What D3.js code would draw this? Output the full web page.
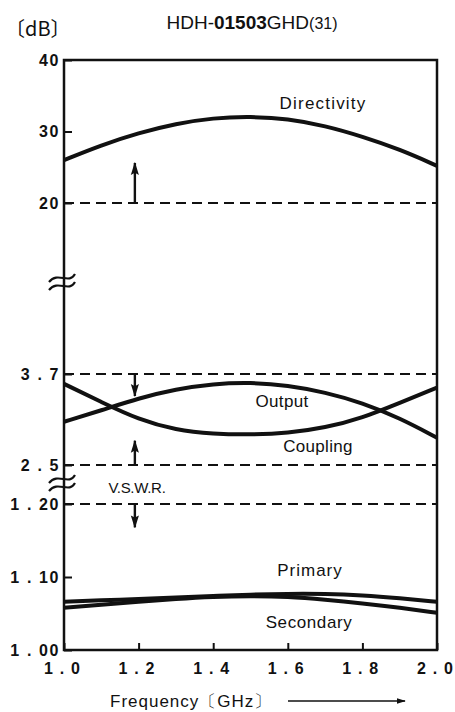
<!DOCTYPE html>
<html>
<head>
<meta charset="utf-8">
<script src="https://cdn.jsdelivr.net/npm/d3@7"></script>
<style>
  body { margin: 0; background: #fff; }
  svg { font-family: "Liberation Sans", Arial, sans-serif; }
  .tick text { font-weight: bold; font-size: 16px; letter-spacing: 1.6px; fill: #111; }
  .x-axis .tick text { letter-spacing: 1.2px; }
  .tick line { stroke: #111; stroke-width: 2; }
  .label { font-size: 17px; letter-spacing: 0.7px; fill: #111; text-anchor: middle; }
</style>
</head>
<body>
<svg id="chart"></svg>
<script>
// Frequency samples (GHz)
const freqs = [1.0, 1.1, 1.2, 1.3, 1.4, 1.5, 1.6, 1.7, 1.8, 1.9, 2.0];

// Directivity (dB)
const directivity = [26.0, 28.1, 29.8, 31.1, 31.9, 32.1, 31.8, 30.8, 29.3, 27.5, 25.2];

// Output / coupling (dB)
const output   = [3.07, 3.22, 3.38, 3.50, 3.57, 3.59, 3.55, 3.46, 3.32, 3.12, 2.86];
const coupling = [3.57, 3.33, 3.10, 2.96, 2.91, 2.90, 2.92, 2.99, 3.12, 3.32, 3.52];

// V.S.W.R.
const vswrPrimary   = [1.066, 1.068, 1.070, 1.072, 1.074, 1.076, 1.077, 1.077, 1.075, 1.071, 1.066];
const vswrSecondary = [1.058, 1.062, 1.066, 1.070, 1.073, 1.074, 1.073, 1.069, 1.064, 1.058, 1.051];

// Tick labels
const xTicks = [1.0, 1.2, 1.4, 1.6, 1.8, 2.0];
const dirTicks = [20, 30, 40];
const cplTicks = [2.5, 3.7];
const vswrTicks = [1.00, 1.10, 1.20];

// Spec limits (dashed lines) and the arrows pointing to the allowed side
const dirLimit = 20, outputLimit = 3.7, couplingLimit = 2.5, vswrLimit = 1.20;
const arrowFreq = 1.19;

class SpecChart {

  constructor(_config) {
    this.config = {
      parentElement: _config.parentElement,
      containerWidth: _config.containerWidth || 455,
      containerHeight: _config.containerHeight || 712,
      margin: _config.margin || {top: 60, right: 18, bottom: 62, left: 64}
    }
    this.initVis();
  }

  initVis() {
    let vis = this;
    const m = vis.config.margin;
    vis.width = vis.config.containerWidth - m.left - m.right;
    vis.height = vis.config.containerHeight - m.top - m.bottom;

    vis.svg = d3.select(vis.config.parentElement)
        .attr('width', vis.config.containerWidth)
        .attr('height', vis.config.containerHeight);

    vis.chart = vis.svg.append('g')
        .attr('transform', `translate(${m.left},${m.top})`);

    vis.xScale = d3.scaleLinear().domain([1.0, 2.0]).range([0, vis.width]);

    // three stacked segments of the broken y axis
    vis.yDir = d3.scaleLinear().domain([20, 40]).range([143, 0]);
    vis.yCpl = d3.scaleLinear().domain([2.5, 3.7]).range([405, 314]);
    vis.yVswr = d3.scaleLinear().domain([1.0, 1.2]).range([vis.height, 444]);

    const defs = vis.svg.append('defs');
    defs.append('marker')
        .attr('id', 'head')
        .attr('viewBox', '0 0 12 10')
        .attr('refX', 11).attr('refY', 5)
        .attr('markerWidth', 13).attr('markerHeight', 9)
        .attr('markerUnits', 'userSpaceOnUse')
        .attr('preserveAspectRatio', 'none')
        .attr('orient', 'auto')
      .append('path')
        .attr('d', 'M0,0.5 L12,5 L0,9.5 L2,5 Z')
        .attr('fill', '#111');
    defs.append('marker')
        .attr('id', 'axhead')
        .attr('viewBox', '0 0 10 10')
        .attr('refX', 9).attr('refY', 5)
        .attr('markerWidth', 9).attr('markerHeight', 6)
        .attr('markerUnits', 'userSpaceOnUse')
        .attr('preserveAspectRatio', 'none')
        .attr('orient', 'auto')
      .append('path')
        .attr('d', 'M0,0.5 L10,5 L0,9.5 Z')
        .attr('fill', '#111');

    vis.renderVis();
  }

  renderVis() {
    let vis = this;
    const fmt = d => d >= 10 ? String(d) : d3.format(d < 2 ? '.2f' : '.1f')(d).replace('.', ' . ');

    // axes (labels + inner ticks)
    const left = (scale, vals) => vis.chart.append('g')
        .call(d3.axisLeft(scale).tickValues(vals).tickFormat(fmt)
          .tickSizeInner(-8).tickSizeOuter(0).tickPadding(4))
        .call(g => g.select('.domain').remove());
    left(vis.yDir, dirTicks);
    left(vis.yCpl, cplTicks);
    left(vis.yVswr, vswrTicks);

    vis.chart.append('g')
        .attr('class', 'x-axis')
        .attr('transform', `translate(0,${vis.height})`)
        .call(d3.axisBottom(vis.xScale).tickValues(xTicks)
          .tickFormat(d => d3.format('.1f')(d).replace('.', ' . '))
          .tickSizeInner(-7).tickSizeOuter(0).tickPadding(13))
        .call(g => g.select('.domain').remove())
        .call(g => g.selectAll('.tick text').attr('dx', -2));

    // frame
    vis.chart.append('rect')
        .attr('width', vis.width).attr('height', vis.height)
        .attr('fill', 'none').attr('stroke', '#111').attr('stroke-width', 2.5);

    // dashed spec lines
    const limits = [vis.yDir(dirLimit), vis.yCpl(outputLimit), vis.yCpl(couplingLimit), vis.yVswr(vswrLimit)];
    vis.chart.selectAll('.limit').data(limits).join('line')
        .attr('class', 'limit')
        .attr('x1', 0).attr('x2', vis.width)
        .attr('y1', d => d).attr('y2', d => d)
        .attr('stroke', '#111').attr('stroke-width', 2)
        .attr('stroke-dasharray', '10,6');

    // spec arrows
    const ax = vis.xScale(arrowFreq);
    const arrows = [
      [vis.yDir(dirLimit), vis.yDir(25.6)],
      [vis.yCpl(outputLimit), vis.yCpl(3.41)],
      [vis.yCpl(couplingLimit), vis.yCpl(2.82)],
      [vis.yVswr(vswrLimit), vis.yVswr(1.168)]
    ];
    vis.chart.selectAll('.arrow').data(arrows).join('line')
        .attr('class', 'arrow')
        .attr('x1', ax).attr('x2', ax)
        .attr('y1', d => d[0]).attr('y2', d => d[1])
        .attr('stroke', '#111').attr('stroke-width', 2.4)
        .attr('marker-end', 'url(#head)');

    // curves
    const series = [
      {values: directivity, y: vis.yDir},
      {values: output, y: vis.yCpl},
      {values: coupling, y: vis.yCpl},
      {values: vswrPrimary, y: vis.yVswr},
      {values: vswrSecondary, y: vis.yVswr}
    ];
    vis.chart.selectAll('.curve').data(series).join('path')
        .attr('class', 'curve')
        .attr('fill', 'none').attr('stroke', '#111').attr('stroke-width', 4)
        .attr('d', s => d3.line()
          .x((d, i) => vis.xScale(freqs[i]))
          .y(d => s.y(d))
          .curve(d3.curveBasis)(s.values));

    // axis break marks
    [222, 423].forEach(by => {
      [-4, 4].forEach(o => {
        vis.chart.append('path')
            .attr('d', `M-15,${by + o + 4} C-6,${by + o - 7} 5,${by + o + 7} 11,${by + o - 4}`)
            .attr('fill', 'none').attr('stroke', '#111').attr('stroke-width', 2.2);
      });
    });

    // series labels
    const labels = [
      ['Directivity', 259, 49, 1.2],
      ['Output', 218, 347, 0.3],
      ['Coupling', 254, 392, 0.3],
      ['Primary', 246, 516, 1],
      ['Secondary', 245, 568, 0.6]
    ];
    vis.chart.selectAll('.label').data(labels).join('text')
        .attr('class', 'label')
        .attr('x', d => d[1]).attr('y', d => d[2])
        .style('letter-spacing', d => d[3] + 'px')
        .text(d => d[0]);

    vis.chart.append('text')
        .attr('class', 'label')
        .attr('x', 73).attr('y', 433)
        .style('font-size', '15px').style('letter-spacing', '-0.3px')
        .text('V.S.W.R.');

    // title and units
    const title = vis.svg.append('text')
        .attr('x', 252).attr('y', 29)
        .attr('text-anchor', 'middle')
        .style('font-size', '19px').attr('fill', '#111');
    title.append('tspan').text('HDH-');
    title.append('tspan').style('font-weight', 'bold').text('01503');
    title.append('tspan').text('GHD');
    title.append('tspan').style('font-size', '16px').text('(31)');

    vis.svg.append('text')
        .attr('x', 5).attr('y', 36)
        .style('font-size', '20px').style('font-family', '"Noto Sans CJK JP", sans-serif')
        .attr('fill', '#111')
        .text('〔dB〕');

    // x axis title with arrow
    vis.svg.append('text')
        .attr('x', 110).attr('y', 707)
        .style('font-size', '17px').style('letter-spacing', '1px')
        .attr('fill', '#111')
        .text('Frequency〔GHz〕');
    vis.svg.append('line')
        .attr('x1', 288).attr('x2', 405).attr('y1', 701).attr('y2', 701)
        .attr('stroke', '#111').attr('stroke-width', 1.5)
        .attr('marker-end', 'url(#axhead)');
  }
}

new SpecChart({parentElement: '#chart'});
</script>
</body>
</html>
